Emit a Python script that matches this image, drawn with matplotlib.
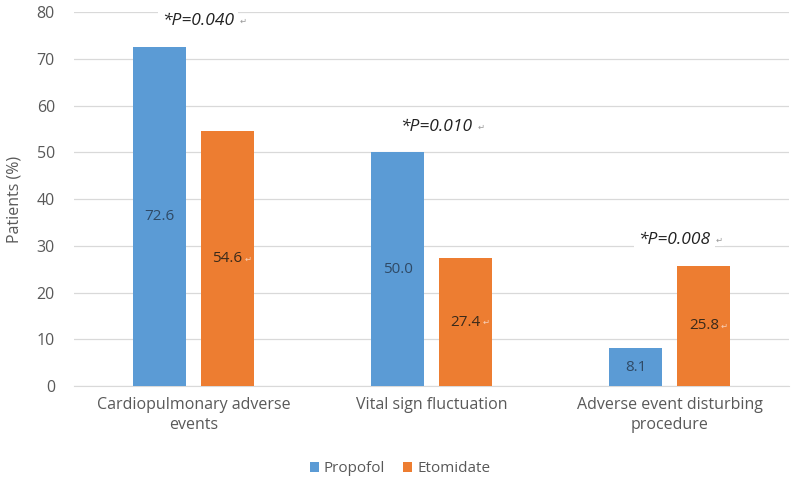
import matplotlib
matplotlib.use("Agg")
import matplotlib.pyplot as plt
import numpy as np

categories = ["Cardiopulmonary adverse\nevents", "Vital sign fluctuation",
              "Adverse event disturbing\nprocedure"]
propofol = [72.6, 50.0, 8.1]
etomidate = [54.6, 27.4, 25.8]
p_values = ["*P=0.040", "*P=0.010", "*P=0.008"]
yticks = [0, 10, 20, 30, 40, 50, 60, 70, 80]

blue = "#5B9BD5"
orange = "#ED7D31"
grey = "#595959"

plt.rcParams['font.family'] = ['Open Sans', 'DejaVu Sans']

fig = plt.figure(figsize=(8, 4.9), dpi=100)
ax = fig.add_axes([0.093, 0.212, 0.893, 0.763])

x = np.arange(len(categories))
w = 0.223
off = 0.143
b1 = ax.bar(x - off, propofol, w, color=blue, label="Propofol", zorder=3)
b2 = ax.bar(x + off, etomidate, w, color=orange, label="Etomidate", zorder=3)

for i in range(len(categories)):
    ax.text(x[i] - off, propofol[i] / 2, f"{propofol[i]:.1f}", ha="center", va="center",
            fontsize=11, color="#2F4A66", zorder=4)
    tv = ax.text(x[i] + off, etomidate[i] / 2, f"{etomidate[i]:.1f}", ha="center", va="center",
                 fontsize=11, color="#3A2A1A", zorder=4)
    ax.annotate("\u21b5", xy=(1, 0.4), xycoords=tv, xytext=(1.5, 0), textcoords="offset points",
                ha="left", va="center", fontsize=6, color="#F8D0B8", zorder=6)
    top = max(propofol[i], etomidate[i])
    t = ax.text(x[i] + 0.02, top + 5.5, p_values[i], ha="center", va="center",
                fontsize=12.5, style="italic", color="#222222", zorder=4)
    t.set_bbox(dict(facecolor="white", edgecolor="none", pad=3))
    ax.annotate("\u21b5", xy=(1, 0.4), xycoords=t, xytext=(3.5, 0), textcoords="offset points",
                ha="left", va="center", fontsize=6, color="#999999", zorder=5,
                bbox=dict(facecolor="white", edgecolor="none", pad=1))

ax.set_xlim(-0.5, 2.5)
ax.set_ylim(0, 80)
ax.set_yticks(yticks)
ax.set_xticks(x)
ax.set_xticklabels(categories, fontsize=11.5, color=grey, linespacing=1.3)
ax.tick_params(axis="y", labelsize=11.5, labelcolor=grey, length=0, pad=14)
ax.tick_params(axis="x", length=0, pad=8)
ax.yaxis.grid(True, color="#D9D9D9", linewidth=0.9, zorder=0)
ax.set_axisbelow(True)
for s in ["top", "right", "left"]:
    ax.spines[s].set_visible(False)
ax.spines["bottom"].set_color("#D9D9D9")
ax.set_ylabel("Patients (%)", fontsize=11.5, color=grey, labelpad=10)

fig.legend(handles=[b1, b2], loc="lower center", bbox_to_anchor=(0.5, 0.0),
           ncol=2, frameon=False, fontsize=11, handlelength=0.6, handleheight=0.6,
           handletextpad=0.3, columnspacing=1.2, labelcolor=grey)

fig.savefig("out.png", dpi=100)
